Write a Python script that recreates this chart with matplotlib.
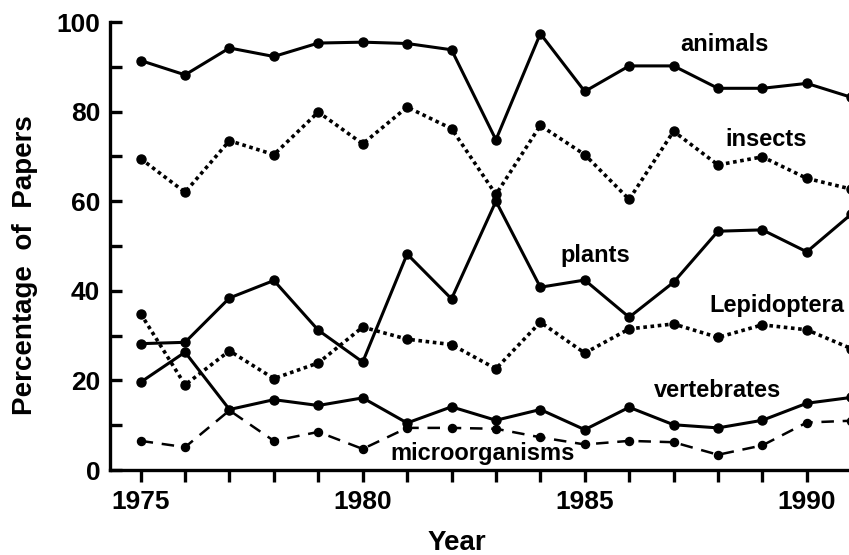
import matplotlib.pyplot as plt
from matplotlib.ticker import MultipleLocator

years = list(range(1975, 1992))

animals = [91.4, 88.2, 94.2, 92.3, 95.3, 95.5, 95.2, 93.8, 73.7, 97.4,
           84.5, 90.2, 90.2, 85.2, 85.2, 86.3, 83.2]
insects = [69.5, 62.0, 73.5, 70.4, 79.9, 72.8, 81.0, 76.2, 61.5, 76.9,
           70.4, 60.4, 75.6, 68.1, 69.9, 65.1, 62.7]
plants = [28.2, 28.5, 38.4, 42.3, 31.2, 24.1, 48.2, 38.2, 60.0, 40.8,
          42.4, 34.1, 41.9, 53.3, 53.6, 48.7, 57.1]
lepidoptera = [34.9, 19.0, 26.6, 20.4, 23.9, 31.9, 29.2, 28.0, 22.6, 33.0,
               26.1, 31.5, 32.6, 29.6, 32.4, 31.3, 27.1]
vertebrates = [19.6, 26.3, 13.5, 15.7, 14.4, 16.1, 10.5, 14.1, 11.1, 13.5,
               9.0, 14.0, 10.1, 9.4, 11.1, 14.9, 16.2]
microorganisms = [6.5, 5.1, 13.3, 6.5, 8.5, 4.7, 9.4, 9.4, 9.2, 7.3,
                  5.7, 6.5, 6.2, 3.4, 5.5, 10.6, 11.0]

# label text, x (year), y (percent)
labels = [
    ("animals", 1988.14, 93.5),
    ("insects", 1989.09, 72.4),
    ("plants", 1985.23, 46.4),
    ("Lepidoptera", 1989.32, 35.2),
    ("vertebrates", 1987.98, 16.2),
    ("microorganisms", 1982.69, 2.3),
]

plt.rcParams['font.family'] = ['Liberation Sans', 'DejaVu Sans']
plt.rcParams['font.weight'] = 'bold'

W, H = 849, 555
fig = plt.figure(figsize=(W / 100, H / 100), dpi=100)
ax = fig.add_axes([110 / W, (H - 470) / H, (W - 110) / W, 448 / H])

solid = dict(color='black', lw=2.2, marker='o', ms=6.5)
dotted = dict(color='black', lw=2.6, ls=(0, (1, 1)), marker='o', ms=6.5)
dashed = dict(color='black', lw=1.8, ls=(0, (5, 3.5)), marker='o', ms=5.8)

ax.plot(years, animals, **solid)
ax.plot(years, insects, **dotted)
ax.plot(years, plants, **solid)
ax.plot(years, lepidoptera, **dotted)
ax.plot(years, vertebrates, **solid)
ax.plot(years, microorganisms, **dashed)

for text, x, y in labels:
    ax.text(x, y, text, ha='center', va='baseline', fontsize=17, fontweight='bold')

ax.set_xlim(1974.31, 1990.95)
ax.set_ylim(0, 100)

ax.xaxis.set_major_locator(MultipleLocator(5))
ax.xaxis.set_minor_locator(MultipleLocator(1))
ax.yaxis.set_major_locator(MultipleLocator(20))
ax.yaxis.set_minor_locator(MultipleLocator(10))

ax.tick_params(axis='x', which='both', direction='out', length=8.6, width=2.4,
               labelsize=19, pad=5.5)
ax.tick_params(axis='y', which='both', direction='in', length=8.6, width=2.4,
               labelsize=19, pad=7)

for s in ['top', 'right']:
    ax.spines[s].set_visible(False)
for s in ['left', 'bottom']:
    ax.spines[s].set_linewidth(2.4)

fig.text(457 / W, 1 - 550 / H, "Year", ha='center', va='baseline',
         fontsize=20, fontweight='bold')
fig.text(25 / W, 1 - 265 / H, "Percentage  of  Papers", ha='center', va='center',
         rotation=90, fontsize=20, fontweight='bold')

fig.savefig('out.png', dpi=100)
